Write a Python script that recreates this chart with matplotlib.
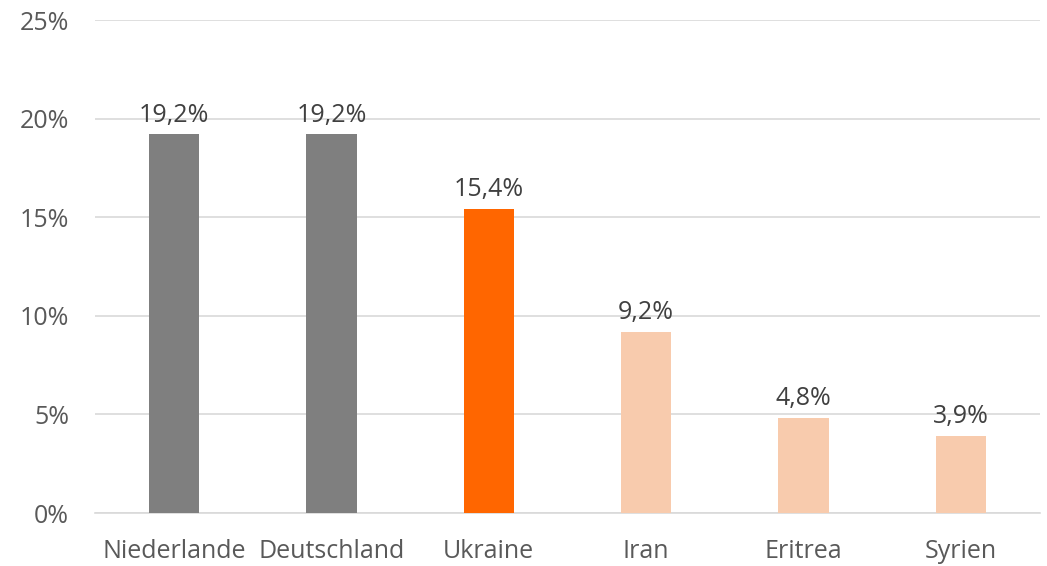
import matplotlib
matplotlib.use("Agg")
import matplotlib.pyplot as plt

categories = ["Niederlande", "Deutschland", "Ukraine", "Iran", "Eritrea", "Syrien"]
values = [19.2, 19.2, 15.4, 9.2, 4.8, 3.9]
labels = ["19,2%", "19,2%", "15,4%", "9,2%", "4,8%", "3,9%"]
colors = ["#7f7f7f", "#7f7f7f", "#ff6600", "#f8cbad", "#f8cbad", "#f8cbad"]
yticks = [0, 5, 10, 15, 20, 25]
ytick_labels = ["0%", "5%", "10%", "15%", "20%", "25%"]

plt.rcParams['font.family'] = ['Open Sans', 'DejaVu Sans']

fig = plt.figure(figsize=(10.47, 5.66), dpi=100)
ax = fig.add_axes([0.091, 0.0936, 0.902, 0.871])
x = range(len(categories))
ax.bar(x, values, width=0.32, color=colors, zorder=3)
for xi, v, lab in zip(x, values, labels):
    ax.text(xi, v + 0.35, lab, ha="center", va="bottom", fontsize=18, color="#404040")

ax.set_ylim(0, 25)
ax.set_xlim(-0.5, len(categories) - 0.5)
ax.set_yticks(yticks)
ax.set_yticklabels(ytick_labels)
ax.set_xticks(list(x))
ax.set_xticklabels(categories)
ax.tick_params(axis="both", length=0, labelsize=18, colors="#595959")
ax.tick_params(axis="y", pad=19)
ax.tick_params(axis="x", pad=19)
ax.grid(axis="y", color="#d9d9d9", linewidth=1.2, zorder=0)
for s in ["top", "right", "left"]:
    ax.spines[s].set_visible(False)
ax.spines["bottom"].set_color("#d9d9d9")
ax.spines["bottom"].set_linewidth(1.2)

fig.savefig("out.png", dpi=100)
